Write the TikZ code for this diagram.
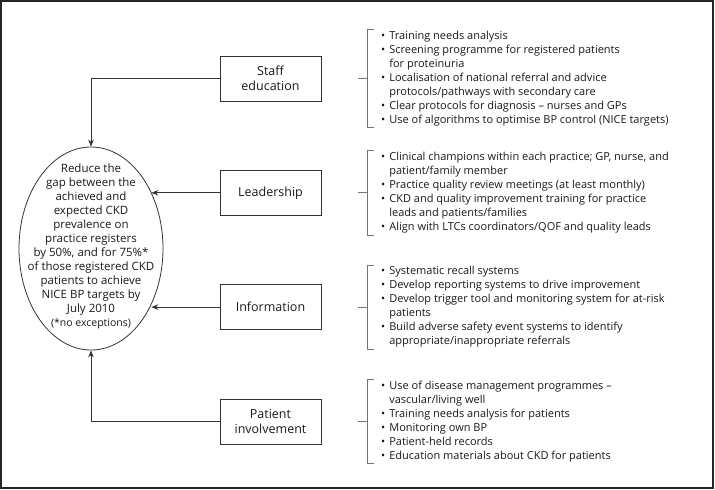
\documentclass[tikz,border=0pt]{standalone}
\usepackage{fontspec}
\setmainfont{Open Sans}
\usetikzlibrary{arrows.meta, positioning, shapes.geometric}

\begin{document}
\begin{tikzpicture}[
  x=1pt, y=-1pt,
  node distance = 68.5pt,
  font=\fontsize{11}{14}\selectfont,
  every node/.style = {text=black!90},
  frame/.style = {draw=black!85, line width=1.3pt},
  lever box/.style = {
    draw=black!80, line width=0.8pt, minimum width=101pt, minimum height=45pt,
    align=center, inner sep=2pt, font=\fontsize{12.5}{15}\selectfont
  },
  goal/.style = {ellipse, draw=black!80, line width=0.8pt,
    minimum width=144pt, minimum height=203pt, inner sep=0pt},
  goal text/.style = {align=center, inner sep=0pt, font=\fontsize{11.5}{14}\selectfont},
  actions/.style = {anchor=west, inner xsep=14pt, inner ysep=0pt},
  arr/.style = {-{Stealth[length=7pt, width=5.5pt]}, line width=0.8pt, draw=black!80},
  brk/.style = {draw=black!55, line width=0.7pt},
]
\useasboundingbox (0,0) rectangle (715,490);
\draw[frame] (1,1) rectangle (713,488);

% goal
\node[goal] (goal) at (91,248.5) {};
\node[goal text] (goal-text) at (91,246.5)
  {Reduce the\\ gap between the\\ achieved and\\ expected CKD\\ prevalence on\\
   practice registers\\ by 50\%, and for 75\%*\\ of those registered CKD\\
   patients to achieve\\ NICE BP targets by\\ July 2010\\
   {\fontsize{10.5}{14}\selectfont(*no exceptions)}};

% levers
\node[lever box] (staff) at (270.5,78.5) {Staff\\ education};
\node[lever box] (lead)  [below=of staff] {Leadership};
\node[lever box] (info)  [below=of lead]  {Information};
\node[lever box] (pat)   [below=of info]  {Patient\\ involvement};

% arrows into the goal
\draw[arr] (staff.west) -| (goal.north);
\draw[arr] (lead.west) -- (goal.43.4 |- lead.west);
\draw[arr] (info.west) -- (goal.-43.6 |- info.west);
\draw[arr] (pat.west) -| (goal.south);

% action lists
\node[actions] (staff-list) at (367,0 |- staff.west) {%
  \begin{tabular}{@{}l@{\hspace{4pt}}l@{}}
  \textbullet & Training needs analysis\\
  \textbullet & Screening programme for registered patients\\
              & for proteinuria\\
  \textbullet & Localisation of national referral and advice\\
              & protocols/pathways with secondary care\\
  \textbullet & Clear protocols for diagnosis -- nurses and GPs\\
  \textbullet & Use of algorithms to optimise BP control (NICE targets)
  \end{tabular}};
\node[actions] (lead-list) at (367,0 |- lead.west) {%
  \begin{tabular}{@{}l@{\hspace{4pt}}l@{}}
  \textbullet & Clinical champions within each practice; GP, nurse, and\\
              & patient/family member\\
  \textbullet & Practice quality review meetings (at least monthly)\\
  \textbullet & CKD and quality improvement training for practice\\
              & leads and patients/families\\
  \textbullet & Align with LTCs coordinators/QOF and quality leads
  \end{tabular}};
\node[actions] (info-list) at (367,0 |- info.west) {%
  \begin{tabular}{@{}l@{\hspace{4pt}}l@{}}
  \textbullet & Systematic recall systems\\
  \textbullet & Develop reporting systems to drive improvement\\
  \textbullet & Develop trigger tool and monitoring system for at-risk\\
              & patients\\
  \textbullet & Build adverse safety event systems to identify\\
              & appropriate/inappropriate referrals
  \end{tabular}};
\node[actions] (pat-list) at (367,0 |- pat.west) {%
  \begin{tabular}{@{}l@{\hspace{4pt}}l@{}}
  \textbullet & Use of disease management programmes --\\
              & vascular/living well\\
  \textbullet & Training needs analysis for patients\\
  \textbullet & Monitoring own BP\\
  \textbullet & Patient-held records\\
  \textbullet & Education materials about CKD for patients
  \end{tabular}};

% brackets
\foreach \n in {staff,lead,info,pat} {
  \draw[brk] ([xshift=7pt]\n-list.north west) -- (\n-list.north west)
    -- (\n-list.south west) -- ++(7,0);
  \draw[brk] (\n-list.west) -- ++(-9,0);
}

\end{tikzpicture}
\end{document}
